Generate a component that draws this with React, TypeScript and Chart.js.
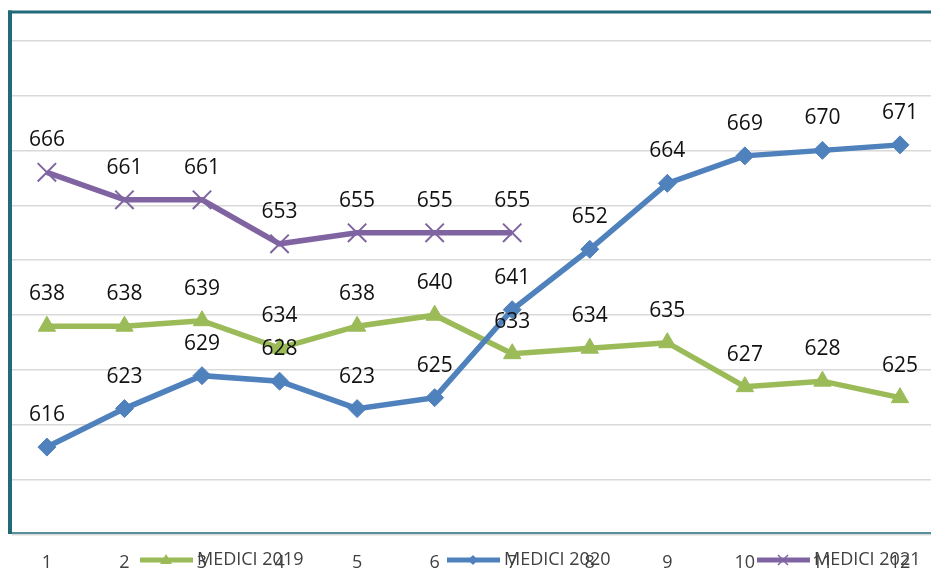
import React, { useEffect, useRef } from 'react';
import { Chart, registerables } from 'chart.js';

Chart.register(...registerables);

const categories = [1, 2, 3, 4, 5, 6, 7, 8, 9, 10, 11, 12];
const medici2019 = [638, 638, 639, 634, 638, 640, 633, 634, 635, 627, 628, 625];
const medici2020 = [616, 623, 629, 628, 623, 625, 641, 652, 664, 669, 670, 671];
const medici2021 = [666, 661, 661, 653, 655, 655, 655, null, null, null, null, null];
const seriesLabels = ['MEDICI 2019', 'MEDICI 2020', 'MEDICI 2021'];
const seriesColors = ['#9BBB59', '#4F81BD', '#8064A2'];
const seriesMarkers = ['triangle', 'rectRot', 'crossRot'];
const yMin = 600;
const yMax = 695;
const yStep = 10;

const FONT = '"Open Sans", "Noto Sans", sans-serif';
const FRAME = '#22697A';

const framePlugin = {
  id: 'frame',
  beforeDatasetsDraw(chart: any) {
    const { ctx, chartArea } = chart;
    ctx.save();
    ctx.strokeStyle = FRAME;
    ctx.lineWidth = 3;
    ctx.beginPath();
    ctx.moveTo(chartArea.left - 4, chartArea.top - 1);
    ctx.lineTo(chart.width, chartArea.top - 1);
    ctx.stroke();
    ctx.lineWidth = 4;
    ctx.beginPath();
    ctx.moveTo(chartArea.left - 2, chartArea.top - 2.5);
    ctx.lineTo(chartArea.left - 2, chartArea.bottom - 1);
    ctx.stroke();
    ctx.lineWidth = 1.5;
    ctx.beginPath();
    ctx.moveTo(chartArea.left - 4, chartArea.bottom - 2);
    ctx.lineTo(chart.width, chartArea.bottom - 2);
    ctx.stroke();
    ctx.restore();
  },
};

const labelPlugin = {
  id: 'pointLabels',
  afterDatasetsDraw(chart: any) {
    const { ctx } = chart;
    ctx.save();
    ctx.font = `21px ${FONT}`;
    ctx.fillStyle = '#111';
    ctx.textAlign = 'center';
    ctx.textBaseline = 'alphabetic';
    chart.data.datasets.forEach((ds: any, i: number) => {
      const meta = chart.getDatasetMeta(i);
      meta.data.forEach((el: any, j: number) => {
        const v = ds.data[j]?.y;
        if (v === null || v === undefined) return;
        ctx.fillText(String(v), el.x, el.y - 26);
      });
    });
    ctx.restore();
  },
};

function drawMarker(ctx: CanvasRenderingContext2D, kind: string, x: number, y: number, color: string) {
  ctx.save();
  ctx.fillStyle = color;
  ctx.strokeStyle = color;
  if (kind === 'triangle') {
    ctx.beginPath();
    ctx.moveTo(x, y - 6);
    ctx.lineTo(x + 6, y + 4);
    ctx.lineTo(x - 6, y + 4);
    ctx.closePath();
    ctx.fill();
  } else if (kind === 'rectRot') {
    ctx.beginPath();
    ctx.moveTo(x, y - 5);
    ctx.lineTo(x + 5, y);
    ctx.lineTo(x, y + 5);
    ctx.lineTo(x - 5, y);
    ctx.closePath();
    ctx.fill();
  } else {
    ctx.lineWidth = 1.5;
    ctx.beginPath();
    ctx.moveTo(x - 5, y - 5);
    ctx.lineTo(x + 5, y + 5);
    ctx.moveTo(x + 5, y - 5);
    ctx.lineTo(x - 5, y + 5);
    ctx.stroke();
  }
  ctx.restore();
}

const legendPlugin = {
  id: 'bottomLegend',
  afterDraw(chart: any) {
    const { ctx } = chart;
    const starts = [140, 447, 757];
    ctx.save();
    chart.data.datasets.forEach((ds: any, i: number) => {
      const x0 = starts[i];
      const y = 560;
      ctx.strokeStyle = ds.borderColor;
      ctx.lineWidth = 5;
      ctx.beginPath();
      ctx.moveTo(x0, y);
      ctx.lineTo(x0 + 53, y);
      ctx.stroke();
      drawMarker(ctx, seriesMarkers[i], x0 + 26, y, ds.borderColor);
      ctx.font = `18px ${FONT}`;
      ctx.fillStyle = '#404040';
      ctx.textAlign = 'left';
      ctx.textBaseline = 'alphabetic';
      ctx.fillText(ds.label, x0 + 57, 565);
    });
    ctx.restore();
  },
};

function App() {
  const ref = useRef<HTMLCanvasElement>(null);
  useEffect(() => {
    if (!ref.current) return;
    const series = [medici2019, medici2020, medici2021];
    const radii = [10, 9, 13];
    const chart = new Chart(ref.current, {
      type: 'line',
      data: {
        datasets: series.map((s, i) => ({
          label: seriesLabels[i],
          data: categories.map((c, j) => ({ x: c, y: s[j] })),
          borderColor: seriesColors[i],
          backgroundColor: seriesColors[i],
          borderWidth: 5.5,
          pointStyle: seriesMarkers[i] as any,
          pointRadius: radii[i],
          pointBorderWidth: i === 2 ? 2 : 1,
          pointBorderColor: seriesColors[i],
          pointBackgroundColor: seriesColors[i],
          tension: 0,
          spanGaps: false,
          order: 3 - i,
        })),
      },
      options: {
        animation: false,
        responsive: false,
        layout: { autoPadding: false, padding: { left: 12, top: 13, right: 0, bottom: 0 } },
        plugins: {
          legend: { display: false },
          tooltip: { enabled: false },
          title: { display: false },
        },
        scales: {
          x: {
            type: 'linear',
            min: 0.55,
            max: 12.4,
            grid: { display: false, drawTicks: false },
            border: { display: false },
            afterBuildTicks: (scale: any) => {
              scale.ticks = categories.map((c) => ({ value: c }));
            },
            afterFit: (scale: any) => {
              scale.height = 37;
              scale.paddingLeft = 0;
              scale.paddingRight = 0;
            },
            ticks: {
              autoSkip: false,
              maxRotation: 0,
              padding: 17,
              color: '#404040',
              font: { family: FONT, size: 18 },
              callback: (v: any) => String(v),
            },
          },
          y: {
            min: yMin,
            max: yMax,
            grid: {
              color: (c: any) => (c.tick && c.tick.value % yStep === 0 ? '#D9D9D9' : 'rgba(0,0,0,0)'),
              lineWidth: 1.6,
              drawTicks: false,
            },
            border: { display: false },
            ticks: { display: false, stepSize: yStep },
            afterFit: (scale: any) => {
              scale.width = 0;
              scale.paddingTop = 0;
              scale.paddingBottom = 0;
            },
          },
        },
      },
      plugins: [framePlugin, labelPlugin, legendPlugin],
    });
    return () => chart.destroy();
  }, []);
  return (
    <div style={{ position: 'fixed', left: 0, top: 0, width: 931, height: 572, background: '#fff' }}>
      <canvas ref={ref} width={931} height={572} />
    </div>
  );
}

export default App;
